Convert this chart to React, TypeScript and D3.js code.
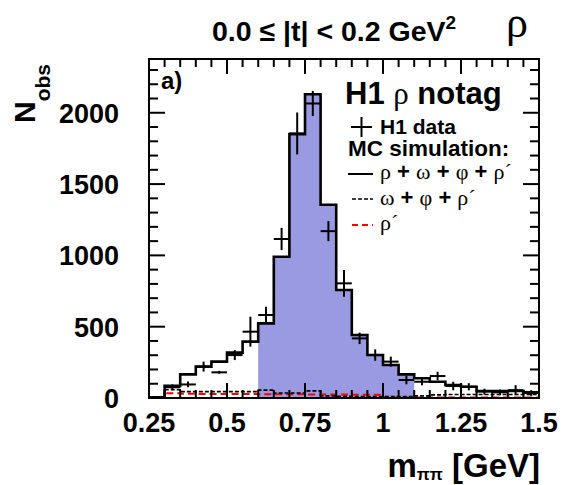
import React from "react";
import * as d3 from "d3";

// ---- data ----
const binLow = [0.25, 0.3, 0.35, 0.4, 0.45, 0.5, 0.55, 0.6, 0.65, 0.7, 0.75, 0.8, 0.85, 0.9, 0.95, 1.0, 1.05, 1.1, 1.15, 1.2, 1.25, 1.3, 1.35, 1.4, 1.45];
const binWidth = 0.05;
const mcTotal = [5, 85, 166, 220, 255, 318, 395, 523, 990, 1850, 2130, 1355, 757, 442, 301, 231, 166, 138, 114, 91, 79, 49, 49, 49, 40];
const mcBackground = [0, 58, 45, 45, 45, 45, 45, 55, 35, 35, 50, 15, 12, 10, 10, 10, 10, 15, 22, 25, 25, 25, 25, 25, 25];
const mcRhoPrime = [0, 33, 30, 28, 28, 28, 28, 26, 26, 26, 25, 25, 25, 22, 22, 3, 3, 3, 3, 3, 3, 3, 3, 3, 3];

const dataCenter = [0.325, 0.375, 0.425, 0.475, 0.525, 0.575, 0.625, 0.675, 0.725, 0.775, 0.825, 0.875, 0.925, 0.975, 1.025, 1.075, 1.125, 1.175, 1.225, 1.275, 1.325, 1.375, 1.425, 1.475];
const dataValue = [75, 95, 220, 180, 301, 465, 582, 1115, 1855, 2065, 1170, 804, 418, 301, 255, 126, 114, 154, 84, 79, 45, 40, 55, 35];
const dataError = [20, 20, 35, 10, 35, 105, 58, 78, 147, 88, 70, 94, 40, 40, 35, 30, 25, 30, 30, 25, 20, 20, 35, 20];

const shadeRange = [0.6, 1.1];

const xTickValues = [0.25, 0.5, 0.75, 1, 1.25, 1.5];
const xTickLabels = ["0.25", "0.5", "0.75", "1", "1.25", "1.5"];
const yTickValues = [0, 500, 1000, 1500, 2000];
const yTickLabels = ["0", "500", "1000", "1500", "2000"];

const W = 563, H = 485;
const L = 149, R = 539, T = 59, B = 398;

export default function App() {
  const x = d3.scaleLinear().domain([0.25, 1.5]).range([L, R]);
  const y = d3.scaleLinear().domain([0, 2377]).range([B, T]);

  const stepPts = (vals: number[]) => {
    const pts: [number, number][] = [[binLow[0], 0]];
    vals.forEach((v, i) => {
      pts.push([binLow[i], v]);
      pts.push([binLow[i] + binWidth, v]);
    });
    return pts;
  };
  const line = d3.line<[number, number]>().x(d => x(d[0])).y(d => y(d[1]));

  const shadePts: [number, number][] = [];
  binLow.forEach((lo, i) => {
    if (lo >= shadeRange[0] - 1e-9 && lo + binWidth <= shadeRange[1] + 1e-9) {
      shadePts.push([lo, mcTotal[i]]);
      shadePts.push([lo + binWidth, mcTotal[i]]);
    }
  });
  const area = d3.area<[number, number]>().x(d => x(d[0])).y0(y(0)).y1(d => y(d[1]));

  const xMinor = d3.range(0.25, 1.5001, 0.05);
  const yMinor = d3.range(0, 2377, 100);
  const isMajorX = (v: number) => xTickValues.some(t => Math.abs(t - v) < 1e-6);
  const isMajorY = (v: number) => yTickValues.some(t => Math.abs(t - v) < 1e-6);

  const sans = "'Liberation Sans', Arial, Helvetica, sans-serif";
  const serif = "'Liberation Serif', 'Times New Roman', serif";

  return (
    <svg width={W} height={H} style={{ position: "absolute", left: 0, top: 0, background: "#fff" }}>
      <defs>
        <clipPath id="plot">
          <rect x={L} y={T} width={R - L} height={B - T} />
        </clipPath>
      </defs>
      <rect x={0} y={0} width={W} height={H} fill="#fff" />
      <g clipPath="url(#plot)">
        <path d={area(shadePts) || ""} fill="#9a9ae2" />
        <path d={line(stepPts(mcRhoPrime)) || ""} fill="none" stroke="#ff0000" strokeWidth={2} strokeDasharray="7,4" />
        <path d={line(stepPts(mcBackground)) || ""} fill="none" stroke="#000" strokeWidth={1.6} strokeDasharray="4,2" />
        <path d={line(stepPts(mcTotal)) || ""} fill="none" stroke="#000" strokeWidth={2.6} />
        {dataCenter.map((c, i) => (
          <g key={i} stroke="#000" strokeWidth={2}>
            <line x1={x(c - binWidth / 2)} x2={x(c + binWidth / 2)} y1={y(dataValue[i])} y2={y(dataValue[i])} />
            <line x1={x(c)} x2={x(c)} y1={y(dataValue[i] - dataError[i])} y2={y(dataValue[i] + dataError[i])} />
          </g>
        ))}
      </g>
      {/* ticks */}
      <g stroke="#000" strokeWidth={2}>
        {xMinor.map((v, i) => {
          const len = isMajorX(v) ? 15 : 8;
          return (
            <g key={"xt" + i}>
              <line x1={x(v)} x2={x(v)} y1={T} y2={T + len} />
              <line x1={x(v)} x2={x(v)} y1={B} y2={B - len} />
            </g>
          );
        })}
        {yMinor.map((v, i) => {
          const len = isMajorY(v) ? 16 : 9;
          return (
            <g key={"yt" + i}>
              <line x1={L} x2={L + len} y1={y(v)} y2={y(v)} />
              <line x1={R} x2={R - len} y1={y(v)} y2={y(v)} />
            </g>
          );
        })}
      </g>
      <rect x={L} y={T} width={R - L} height={B - T} fill="none" stroke="#000" strokeWidth={2} />

      {/* tick labels */}
      <g fontFamily={sans} fontWeight="bold" fontSize={27} fill="#000">
        {xTickValues.map((v, i) => (
          <text key={"xl" + i} x={x(v)} y={432} textAnchor="middle">{xTickLabels[i]}</text>
        ))}
        {yTickValues.map((v, i) => (
          <text key={"yl" + i} x={119} y={y(v) + 10} textAnchor="end">{yTickLabels[i]}</text>
        ))}
      </g>

      {/* axis titles */}
      <text x={540} y={477} textAnchor="end" fontFamily={sans} fontWeight="bold" fill="#000">
        <tspan fontSize={33}>m</tspan>
        <tspan fontSize={17} dy={3}>ππ</tspan>
        <tspan fontSize={33} dy={-3}> [GeV]</tspan>
      </text>
      <text transform="translate(35,123) rotate(-90)" fontFamily={sans} fontWeight="bold" fill="#000">
        <tspan fontSize={30}>N</tspan>
        <tspan fontSize={21} dy={15}>obs</tspan>
      </text>

      {/* title */}
      <text x={212} y={41} fontFamily={sans} fontWeight="bold" fontSize={28.5} fill="#000">
        0.0 ≤ |t| &lt; 0.2 GeV<tspan fontSize={19} dy={-12}>2</tspan>
      </text>
      <text x={506} y={37} fontFamily={serif} fontSize={44} fill="#000">ρ</text>

      {/* panel label */}
      <text x={161} y={89} fontFamily={sans} fontWeight="bold" fontSize={24} fill="#000">a)</text>

      {/* legend */}
      <text x={345} y={104} fontFamily={sans} fontWeight="bold" fontSize={31} fill="#000">
        H1 <tspan fontFamily={serif} fontWeight="normal">ρ</tspan> notag
      </text>
      <g stroke="#000" strokeWidth={2}>
        <line x1={351} x2={372} y1={127} y2={127} />
        <line x1={361.5} x2={361.5} y1={117} y2={137} />
      </g>
      <text x={380} y={134} fontFamily={sans} fontWeight="bold" fontSize={21} fill="#000">H1 data</text>
      <text x={348} y={156} fontFamily={sans} fontWeight="bold" fontSize={22.5} fill="#000">MC simulation:</text>

      <line x1={348} x2={373} y1={174} y2={174} stroke="#000" strokeWidth={2} />
      <text x={380} y={179} fontSize={22} fill="#000">
        <tspan fontFamily={serif}>ρ</tspan>
        <tspan fontFamily={sans} fontWeight="bold"> + </tspan>
        <tspan fontFamily={serif}>ω</tspan>
        <tspan fontFamily={sans} fontWeight="bold"> + </tspan>
        <tspan fontFamily={serif}>φ</tspan>
        <tspan fontFamily={sans} fontWeight="bold"> + </tspan>
        <tspan fontFamily={serif}>ρ´</tspan>
      </text>

      <line x1={352} x2={373} y1={199} y2={199} stroke="#000" strokeWidth={1.6} strokeDasharray="4,2" />
      <text x={380} y={205} fontSize={22} fill="#000">
        <tspan fontFamily={serif}>ω</tspan>
        <tspan fontFamily={sans} fontWeight="bold"> + </tspan>
        <tspan fontFamily={serif}>φ</tspan>
        <tspan fontFamily={sans} fontWeight="bold"> + </tspan>
        <tspan fontFamily={serif}>ρ´</tspan>
      </text>

      <line x1={352} x2={373} y1={225} y2={225} stroke="#ff0000" strokeWidth={2} strokeDasharray="6,4" />
      <text x={380} y={230} fontSize={22} fill="#000">
        <tspan fontFamily={serif}>ρ´</tspan>
      </text>
    </svg>
  );
}
